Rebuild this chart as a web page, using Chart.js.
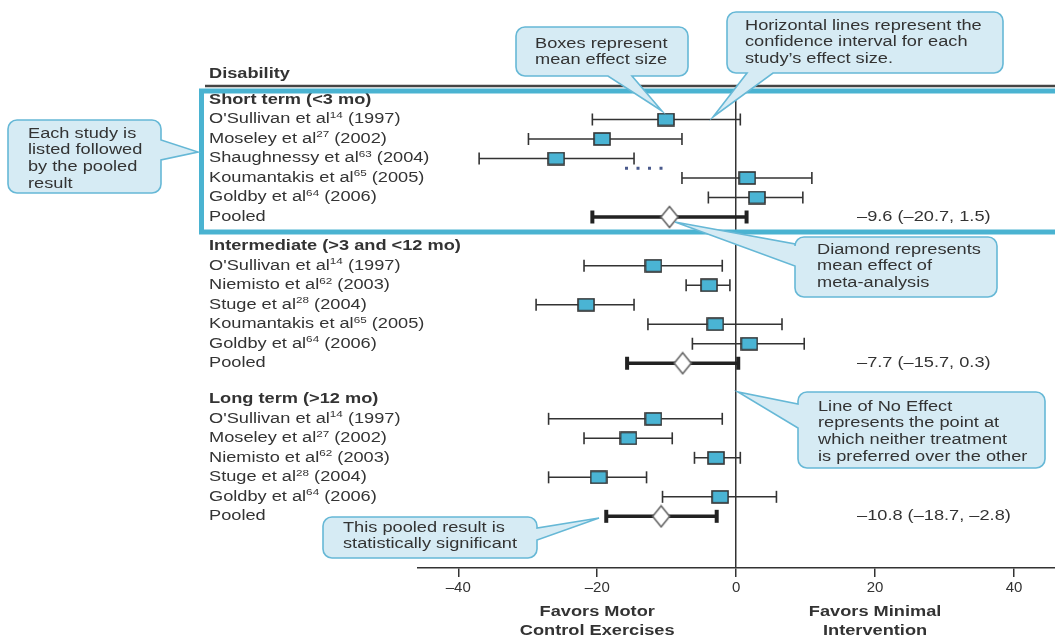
<!DOCTYPE html>
<html>
<head>
<meta charset="utf-8">
<title>Forest plot - Disability</title>
<script src="https://cdn.jsdelivr.net/npm/chart.js@4.4.0/dist/chart.umd.min.js"></script>
<style>
  html, body { margin: 0; padding: 0; background: #fff; overflow: hidden; }
  #wrap { width: 1055px; height: 639px; position: relative; }
</style>
</head>
<body>
<div id="wrap"><canvas id="forest"></canvas></div>
<script>
// --- data ---
const outcomeTitle = "Disability";
const groupTitles = ["Short term (<3 mo)", "Intermediate (>3 and <12 mo)", "Long term (>12 mo)"];

const shortStudies = ["O'Sullivan et al{14} (1997)", "Moseley et al{27} (2002)", "Shaughnessy et al{63} (2004)", "Koumantakis et al{65} (2005)", "Goldby et al{64} (2006)"];
const shortMean = [-10.1, -19.3, -25.9, 1.6, 3.0];
const shortLow = [-20.7, -29.9, -37.0, -7.8, -4.0];
const shortHigh = [0.6, -7.8, -14.7, 10.9, 9.6];

const interStudies = ["O'Sullivan et al{14} (1997)", "Niemisto et al{62} (2003)", "Stuge et al{28} (2004)", "Koumantakis et al{65} (2005)", "Goldby et al{64} (2006)"];
const interMean = [-11.9, -3.9, -21.6, -3.0, 1.9];
const interLow = [-21.9, -7.2, -28.8, -12.7, -6.3];
const interHigh = [-2.0, -0.9, -14.7, 6.6, 9.8];

const longStudies = ["O'Sullivan et al{14} (1997)", "Moseley et al{27} (2002)", "Niemisto et al{62} (2003)", "Stuge et al{28} (2004)", "Goldby et al{64} (2006)"];
const longMean = [-11.9, -15.5, -2.9, -19.8, -2.3];
const longLow = [-27.0, -21.9, -6.0, -27.0, -10.6];
const longHigh = [-2.0, -9.2, 0.6, -12.9, 5.8];

const pooledMean = [-9.6, -7.7, -10.8];
const pooledLow = [-20.7, -15.7, -18.7];
const pooledHigh = [1.5, 0.3, -2.8];

// stray dotted mark between Shaughnessy and Koumantakis rows
const dottedX = [-16.0, -9.4];

const xTicks = [-40, -20, 0, 20, 40];
const favorLabels = [["Favors Motor", "Control Exercises"], ["Favors Minimal", "Intervention"]];
const favorAt = [-20, 20];

// --- layout helpers ---
const SX = 1.3;               // the figure's type is set wide
const FONT = '"Liberation Sans", Arial, sans-serif';
const groupGaps = [1.5, 1.85];

const groups = [
  { title: groupTitles[0], studies: shortStudies, mean: shortMean, low: shortLow, high: shortHigh },
  { title: groupTitles[1], studies: interStudies, mean: interMean, low: interLow, high: interHigh },
  { title: groupTitles[2], studies: longStudies, mean: longMean, low: longLow, high: longHigh }
];
let r = 0;
groups.forEach((g, gi) => {
  g.header = r;
  g.rows = g.studies.map((_, i) => r + 1 + i);
  g.pooledRow = r + g.studies.length + 1;
  r = g.pooledRow + (groupGaps[gi] || 0);
});

const dash = v => (v < 0 ? '\u2013' + Math.abs(v) : String(v));
const fmt1 = v => (v < 0 ? '\u2013' + Math.abs(v).toFixed(1) : v.toFixed(1));

// marker images
function makeBox() {
  const c = document.createElement('canvas');
  c.width = 18; c.height = 14;
  const g = c.getContext('2d');
  g.fillStyle = '#4ab4d4';
  g.strokeStyle = '#333';
  g.lineWidth = 1.6;
  g.fillRect(1, 1, 16, 12);
  g.strokeRect(1, 1, 16, 12);
  return c;
}
function makeDiamond() {
  const c = document.createElement('canvas');
  c.width = 20; c.height = 24;
  const g = c.getContext('2d');
  g.beginPath();
  g.moveTo(10, 1.5); g.lineTo(18.5, 12); g.lineTo(10, 22.5); g.lineTo(1.5, 12); g.closePath();
  g.fillStyle = '#fff';
  g.fill();
  g.strokeStyle = '#666';
  g.lineWidth = 1.6;
  g.stroke();
  return c;
}

// build dataset points
const studyPts = [], ciPts = [], pooledPts = [], pooledCiPts = [];
groups.forEach((g, gi) => {
  g.rows.forEach((row, i) => {
    studyPts.push({ x: g.mean[i], y: row });
    ciPts.push({ x: g.low[i], y: row }, { x: g.high[i], y: row }, { x: g.high[i], y: null });
  });
  pooledPts.push({ x: pooledMean[gi], y: g.pooledRow });
  pooledCiPts.push({ x: pooledLow[gi], y: g.pooledRow }, { x: pooledHigh[gi], y: g.pooledRow }, { x: pooledHigh[gi], y: null });
});
const dottedRow = (groups[0].rows[2] + groups[0].rows[3]) / 2;

function txt(ctx, s, x, y, font, align) {
  ctx.save();
  ctx.font = font;
  ctx.textAlign = align || 'left';
  ctx.textBaseline = 'middle';
  ctx.translate(x, y);
  ctx.scale(SX, 1);
  ctx.fillText(s, 0, 0);
  ctx.restore();
}
function rich(ctx, s, x, y, bold) {
  let cx = x;
  s.split(/[{}]/).forEach((p, i) => {
    if (!p) return;
    const sup = i % 2 === 1;
    const font = (bold ? 'bold ' : '') + (sup ? '9px ' : '14px ') + FONT;
    ctx.font = font;
    const w = ctx.measureText(p).width * SX;
    txt(ctx, p, cx, sup ? y - 4 : y, font);
    cx += w;
  });
}

// callouts: box, which edge the tail leaves from, tail base (a..b) and tip
const callouts = [
  { x: 8, y: 120, w: 153, h: 73, side: 'right', a: 140, b: 160, tip: [198, 152], tx: 28, ty: 134,
    lines: ["Each study is", "listed followed", "by the pooled", "result"] },
  { x: 516, y: 27, w: 172, h: 49, side: 'bottom', a: 608, b: 632, tip: [662, 111], tx: 535, ty: 44,
    lines: ["Boxes represent", "mean effect size"] },
  { x: 727, y: 12, w: 276, h: 61, side: 'bottom', a: 747, b: 773, tip: [713, 117], tx: 745, ty: 26,
    lines: ["Horizontal lines represent the", "confidence interval for each", "study\u2019s effect size."] },
  { x: 795, y: 237, w: 202, h: 60, side: 'left', a: 244, b: 266, tip: [675, 222], tx: 817, ty: 250,
    lines: ["Diamond represents", "mean effect of", "meta-analysis"] },
  { x: 798, y: 392, w: 247, h: 76, side: 'left', a: 404, b: 428, tip: [738, 392], tx: 818, ty: 407,
    lines: ["Line of No Effect", "represents the point at", "which neither treatment", "is preferred over the other"] },
  { x: 323, y: 517, w: 214, h: 41, side: 'right', a: 528, b: 540, tip: [599, 518], tx: 343, ty: 528,
    lines: ["This pooled result is", "statistically significant"] }
];

function drawCallout(ctx, c) {
  const { x, y, w, h } = c, rr = 9;
  ctx.save();
  ctx.beginPath();
  ctx.moveTo(x + rr, y);
  ctx.lineTo(x + w - rr, y);
  ctx.arcTo(x + w, y, x + w, y + rr, rr);
  if (c.side === 'right') { ctx.lineTo(x + w, c.a); ctx.lineTo(c.tip[0], c.tip[1]); ctx.lineTo(x + w, c.b); }
  ctx.lineTo(x + w, y + h - rr);
  ctx.arcTo(x + w, y + h, x + w - rr, y + h, rr);
  if (c.side === 'bottom') { ctx.lineTo(c.b, y + h); ctx.lineTo(c.tip[0], c.tip[1]); ctx.lineTo(c.a, y + h); }
  ctx.lineTo(x + rr, y + h);
  ctx.arcTo(x, y + h, x, y + h - rr, rr);
  if (c.side === 'left') { ctx.lineTo(x, c.b); ctx.lineTo(c.tip[0], c.tip[1]); ctx.lineTo(x, c.a); }
  ctx.lineTo(x, y + rr);
  ctx.arcTo(x, y, x + rr, y, rr);
  ctx.closePath();
  ctx.fillStyle = '#d6ebf4';
  ctx.fill();
  ctx.strokeStyle = '#66b8d6';
  ctx.lineWidth = 1.6;
  ctx.stroke();
  ctx.fillStyle = '#333';
  c.lines.forEach((l, i) => txt(ctx, l, c.tx, c.ty + i * 16.6, '14px ' + FONT));
  ctx.restore();
}

const annotations = {
  id: 'annotations',
  afterDraw(chart) {
    const ctx = chart.ctx;
    const xs = chart.scales.x, ys = chart.scales.y;
    const lx = 209;
    ctx.save();
    ctx.fillStyle = '#333';

    // title + rule
    txt(ctx, outcomeTitle, lx, ys.getPixelForValue(-1.35), 'bold 14px ' + FONT);
    ctx.strokeStyle = '#444';
    ctx.lineWidth = 2.5;
    ctx.beginPath(); ctx.moveTo(205, 86); ctx.lineTo(1055, 86); ctx.stroke();

    // row labels
    groups.forEach((g, gi) => {
      rich(ctx, g.title, lx, ys.getPixelForValue(g.header), true);
      g.studies.forEach((s, i) => rich(ctx, s, lx, ys.getPixelForValue(g.rows[i]), false));
      const py = ys.getPixelForValue(g.pooledRow);
      rich(ctx, 'Pooled', lx, py, false);
      const t = fmt1(pooledMean[gi]) + ' (' + fmt1(pooledLow[gi]) + ', ' + fmt1(pooledHigh[gi]) + ')';
      txt(ctx, t, xs.getPixelForValue(17.4), py, '14px ' + FONT);
    });

    // favors labels under the axis
    favorLabels.forEach((lines, i) => {
      const px = xs.getPixelForValue(favorAt[i]);
      lines.forEach((l, j) => txt(ctx, l, px, 612 + j * 19.5, 'bold 14px ' + FONT, 'center'));
    });

    // highlight frame round the short-term block
    ctx.strokeStyle = '#4ab3d1';
    ctx.lineWidth = 5;
    ctx.strokeRect(201.5, 91, 900, 141);
    ctx.restore();

    callouts.forEach(c => drawCallout(ctx, c));
  }
};

new Chart(document.getElementById('forest'), {
  type: 'line',
  data: {
    datasets: [
      { label: 'Study effect', data: studyPts, showLine: false, pointStyle: makeBox(), pointRadius: 3, order: 1 },
      { label: 'Pooled effect', data: pooledPts, showLine: false, pointStyle: makeDiamond(), pointRadius: 3, order: 1 },
      { label: 'Study CI', data: ciPts, borderColor: '#333', borderWidth: 1.5, spanGaps: false,
        pointStyle: 'line', pointRotation: 90, pointRadius: 6, pointBorderWidth: 1.6, pointBorderColor: '#333', order: 3 },
      { label: 'Pooled CI', data: pooledCiPts, borderColor: '#222', borderWidth: 3.5, spanGaps: false,
        pointStyle: 'line', pointRotation: 90, pointRadius: 6.5, pointBorderWidth: 4, pointBorderColor: '#222', order: 3 },
      { label: 'dots', data: dottedX.map(x => ({ x: x, y: dottedRow })), borderColor: '#4a5a8c', borderWidth: 3,
        borderDash: [3, 8.5], pointRadius: 0, order: 4 }
    ]
  },
  options: {
    responsive: true,
    maintainAspectRatio: false,
    animation: false,
    layout: { autoPadding: false, padding: { left: 418, top: 100, right: 0, bottom: 0 } },
    plugins: { legend: { display: false }, tooltip: { enabled: false } },
    scales: {
      x: {
        type: 'linear',
        min: -45.8,
        max: 45.9,
        afterBuildTicks: s => { s.ticks = xTicks.map(v => ({ value: v })); },
        afterFit: s => { s.height = 71; s.paddingLeft = 0; s.paddingRight = 0; },
        border: { display: true, color: '#333', width: 1.5 },
        grid: {
          color: c => (c.tick && c.tick.value === 0 ? '#333' : 'rgba(0,0,0,0)'),
          lineWidth: 1.5,
          tickColor: '#333',
          tickWidth: 1.5,
          tickLength: 9
        },
        ticks: {
          color: '#333',
          padding: 2,
          font: { family: '"Liberation Sans", Arial, sans-serif', size: 15 },
          maxRotation: 0,
          callback: v => dash(v)
        }
      },
      y: { type: 'linear', display: false, reverse: true, min: 0, max: 24 }
    }
  },
  plugins: [annotations]
});
</script>
</body>
</html>
